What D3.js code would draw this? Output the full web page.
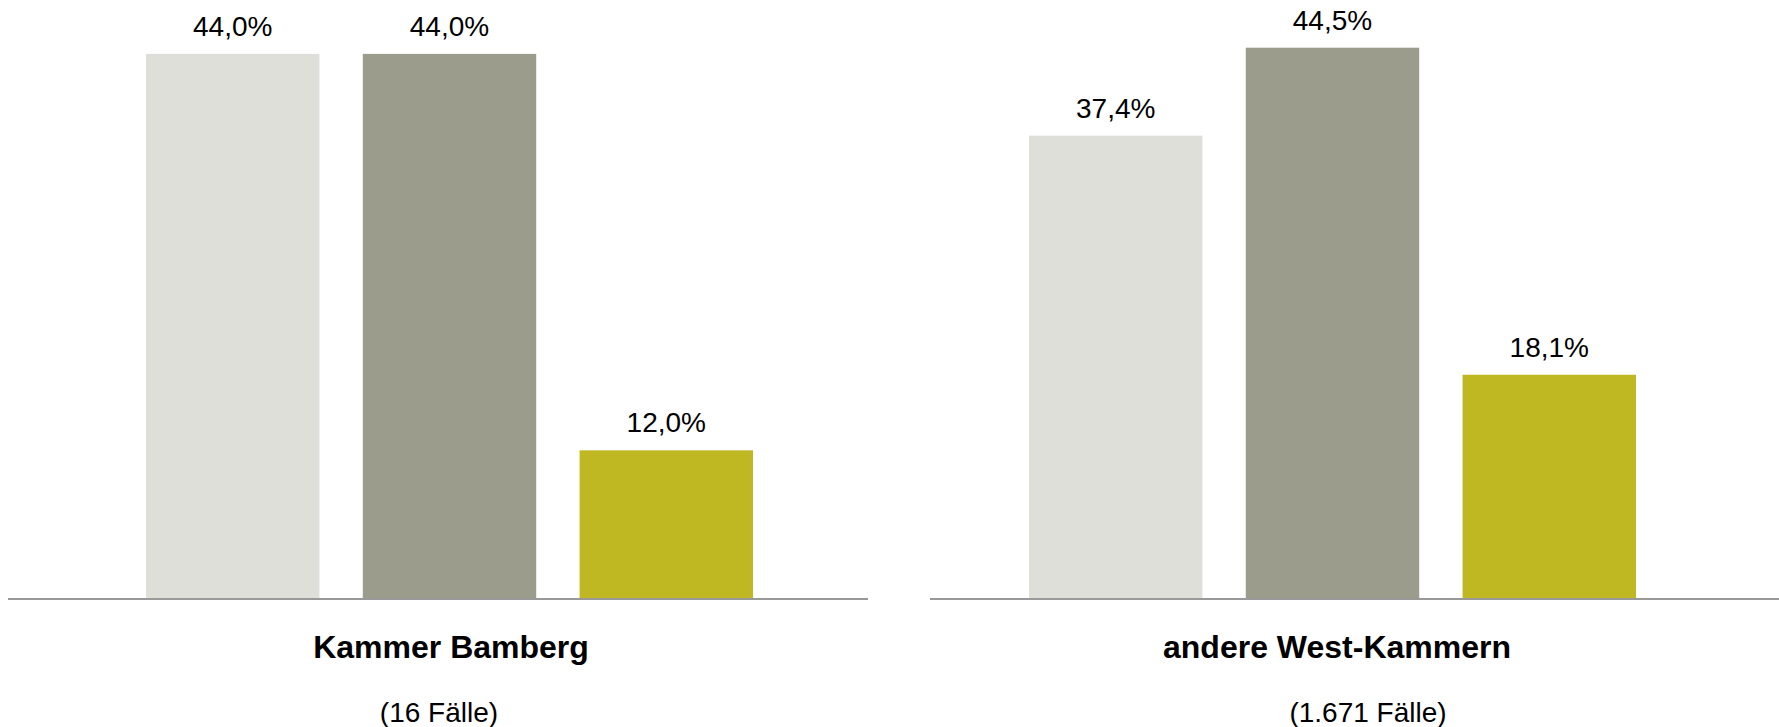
<!DOCTYPE html>
<html>
<head>
<meta charset="utf-8">
<script src="https://cdn.jsdelivr.net/npm/d3@7"></script>
<style>
  html, body { margin: 0; padding: 0; background: #fff; }
  svg text { font-family: "Liberation Sans", Arial, sans-serif; fill: #000; }
</style>
</head>
<body>
<svg id="chart" width="1779" height="727"></svg>
<script>
// data
const groups = ["Kammer Bamberg", "andere West-Kammern"];
const cases = ["(16 Fälle)", "(1.671 Fälle)"];
const series = ["s1", "s2", "s3"];
const bamberg = [44.0, 44.0, 12.0];
const west = [37.4, 44.5, 18.1];

const colors = ["#dedfd9", "#9c9c8d", "#bfb823"];

const $svg = d3.select("#chart");

const base_y = 599;
const y = d3.scaleLinear().domain([0, 48.35]).range([base_y, 0]);

const color = d3.scaleOrdinal().domain(series).range(colors);

const fmt = function(v) { return d3.format(".1f")(v).replace(".", ",") + "%"; };

// panel layout
const panels = [
  { values: bamberg, bars: [146, 753], axis: [8, 868], title_x: 451, sub_x: 439 },
  { values: west, bars: [1029, 1636], axis: [930, 1779], title_x: 1337, sub_x: 1368 }
];

panels.forEach(function(p, i) {
  const x = d3.scaleBand().domain(series).range(p.bars).paddingInner(0.2).paddingOuter(0);
  const data = series.map(function(s, j) { return { key: s, value: p.values[j] }; });

  const $g = $svg.append("g");

  $g.selectAll("rect")
    .data(data)
    .enter()
    .append("rect")
    .attr("x", function(d) { return x(d.key); })
    .attr("y", function(d) { return y(d.value); })
    .attr("width", x.bandwidth())
    .attr("height", function(d) { return base_y - y(d.value); })
    .style("fill", function(d) { return color(d.key); });

  $g.selectAll("text.val")
    .data(data)
    .enter()
    .append("text")
    .attr("class", "val")
    .attr("x", function(d) { return x(d.key) + x.bandwidth() / 2; })
    .attr("y", function(d) { return y(d.value) - 18; })
    .attr("text-anchor", "middle")
    .style("font-size", "28px")
    .text(function(d) { return fmt(d.value); });

  $g.append("line")
    .attr("x1", p.axis[0])
    .attr("x2", p.axis[1])
    .attr("y1", base_y)
    .attr("y2", base_y)
    .style("stroke", "#999")
    .style("stroke-width", 2);

  $g.append("text")
    .attr("x", p.title_x)
    .attr("y", 658)
    .attr("text-anchor", "middle")
    .style("font-size", "32px")
    .style("font-weight", "bold")
    .text(groups[i]);

  $g.append("text")
    .attr("x", p.sub_x)
    .attr("y", 722)
    .attr("text-anchor", "middle")
    .style("font-size", "28px")
    .text(cases[i]);
});
</script>
</body>
</html>
